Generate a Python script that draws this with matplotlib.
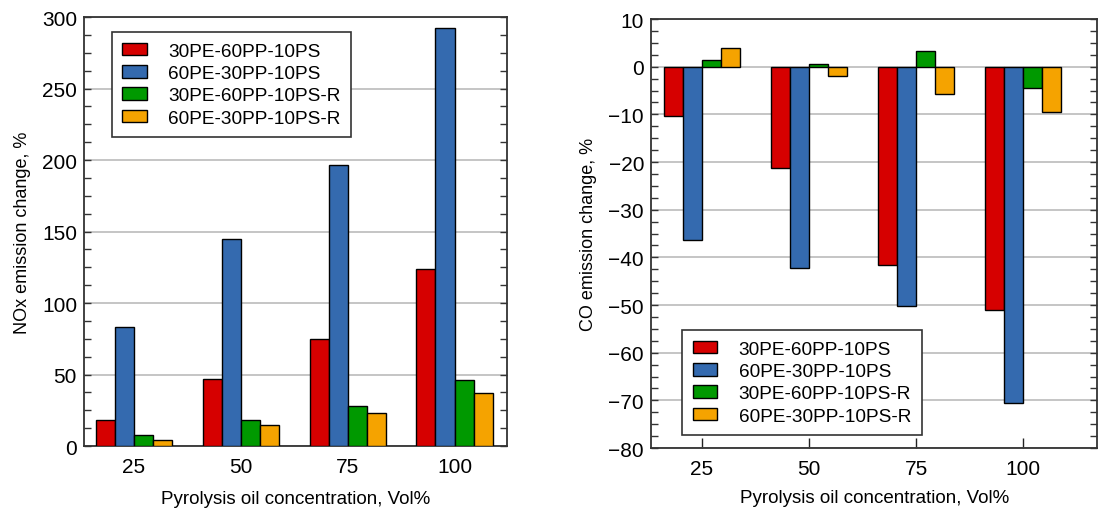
import matplotlib
matplotlib.use("Agg")
import matplotlib.pyplot as plt
import numpy as np
from matplotlib.ticker import MultipleLocator

plt.rcParams["font.family"] = ["Liberation Sans", "DejaVu Sans"]

concentrations = [25, 50, 75, 100]
series = ["30PE-60PP-10PS", "60PE-30PP-10PS", "30PE-60PP-10PS-R", "60PE-30PP-10PS-R"]
colors = ["#d60000", "#346aaf", "#009900", "#f5a300"]

nox_change = [
    [18.2, 46.6, 75.2, 123.7],
    [82.9, 145.1, 196.4, 292.6],
    [7.7, 18.2, 28.2, 46.4],
    [4.2, 14.9, 23.3, 37.3],
]
co_change = [
    [-10.4, -21.3, -41.6, -51.1],
    [-36.3, -42.3, -50.2, -70.5],
    [1.5, 0.5, 3.3, -4.5],
    [4.0, -2.0, -5.7, -9.4],
]

BAR_W = 4.45


def draw_panel(ax, values, ylabel, ylim, major, minor, xlim, xpad):
    x = np.array(concentrations, dtype=float)
    for i, (name, vals) in enumerate(zip(series, values)):
        ax.bar(x + (i - 1.5) * BAR_W, vals, width=BAR_W, color=colors[i],
               edgecolor="black", linewidth=1.0, label=name, zorder=3)
    ax.set_xlim(*xlim)
    ax.set_ylim(*ylim)
    ax.set_xticks(concentrations)
    ax.yaxis.set_major_locator(MultipleLocator(major))
    ax.yaxis.set_minor_locator(MultipleLocator(minor))
    ax.tick_params(axis="y", which="both", direction="in", left=True, right=True,
                   length=5, width=1.0, color="#333333", labelsize=15, pad=5)
    ax.tick_params(axis="x", which="both", direction="in", bottom=True, top=False,
                   length=7, width=1.0, color="#222222", labelsize=15, pad=8)
    ax.grid(axis="y", which="major", color="#bbbbbb", linewidth=1.2, zorder=0)
    for sp in ax.spines.values():
        sp.set_color("#333333")
        sp.set_linewidth(1.3)
    ax.set_xlabel("Pyrolysis oil concentration, Vol%", fontsize=13.5, labelpad=xpad)
    ax.set_ylabel(ylabel, fontsize=13, labelpad=8)


fig = plt.figure(figsize=(10.99, 5.10), dpi=100)
ax1 = fig.add_axes([0.0764, 0.1235, 0.385, 0.841])
ax2 = fig.add_axes([0.5924, 0.1196, 0.406, 0.841])

draw_panel(ax1, nox_change, "NOx emission change, %", (0, 300), 50, 12.5, (13.3, 112.3), 10)
draw_panel(ax2, co_change, "CO emission change, %", (-80, 10), 10, 2.5, (13.1, 117.3), 8)

leg_kw = dict(fontsize=13.7, frameon=True, fancybox=False, edgecolor="#333333",
              handlelength=1.27, handleheight=0.65, handletextpad=1.15, labelspacing=0.28,
              borderpad=0.55, borderaxespad=0)
l1 = ax1.legend(loc="upper left", bbox_to_anchor=(0.066, 0.965), **leg_kw)
l2 = ax2.legend(loc="lower left", bbox_to_anchor=(0.07, 0.03), **leg_kw)
for lg in (l1, l2):
    lg.get_frame().set_linewidth(1.2)
    lg.get_frame().set_alpha(1)

fig.savefig("out.png", dpi=100)
